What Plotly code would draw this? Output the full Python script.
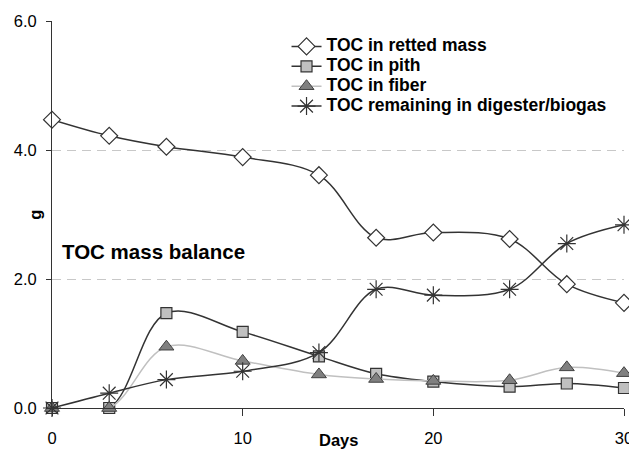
import plotly.graph_objects as go

days = [0, 3, 6, 10, 14, 17, 20, 24, 27, 30]
toc_retted = [4.47, 4.22, 4.05, 3.89, 3.61, 2.64, 2.72, 2.62, 1.92, 1.63]
toc_pith = [0.0, 0.0, 1.47, 1.18, 0.80, 0.53, 0.41, 0.33, 0.38, 0.31]
toc_fiber = [0.0, 0.0, 0.95, 0.73, 0.52, 0.45, 0.42, 0.43, 0.63, 0.54]
toc_biogas = [0.0, 0.23, 0.44, 0.57, 0.86, 1.84, 1.75, 1.84, 2.55, 2.84]

names = ["TOC in retted mass", "TOC in pith", "TOC in fiber",
         "TOC remaining in digester/biogas"]

FONT = "Arial, 'Liberation Sans', sans-serif"
DARK = "#333333"


def legend_label(s):
    return '<span style="font-size:17.5px;font-weight:bold">' + s + "</span>"


fig = go.Figure()
fig.add_trace(go.Scatter(
    x=days, y=toc_retted, name=legend_label(names[0]), mode="lines+markers",
    line=dict(color=DARK, width=1.5, shape="spline", smoothing=1),
    marker=dict(symbol="diamond", size=13, color="white",
                line=dict(color=DARK, width=1.2)),
    cliponaxis=False))
fig.add_trace(go.Scatter(
    x=days, y=toc_pith, name=legend_label(names[1]), mode="lines+markers",
    line=dict(color=DARK, width=1.5, shape="spline", smoothing=1),
    marker=dict(symbol="square", size=11, color="#c0c0c0",
                line=dict(color=DARK, width=1.2)),
    cliponaxis=False))
fig.add_trace(go.Scatter(
    x=days, y=toc_fiber, name=legend_label(names[2]), mode="lines+markers",
    line=dict(color="#c0c0c0", width=1.5, shape="spline", smoothing=1),
    marker=dict(symbol="triangle-up", size=13, color="#808080",
                line=dict(color="#404040", width=1)),
    cliponaxis=False))
fig.add_trace(go.Scatter(
    x=days, y=toc_biogas, name=legend_label(names[3]), mode="lines+markers",
    line=dict(color=DARK, width=1.5, shape="spline", smoothing=1),
    marker=dict(symbol="asterisk-open", size=15, color=DARK,
                line=dict(color=DARK, width=1.2)),
    cliponaxis=False))

fig.update_layout(
    width=629, height=442,
    margin=dict(l=44, r=13, t=13, b=42, autoexpand=False),
    paper_bgcolor="white", plot_bgcolor="white",
    font=dict(family=FONT, size=16, color="#000000"),
    showlegend=True,
    legend=dict(x=0.41, y=0.973, xanchor="left", yanchor="top",
                bgcolor="rgba(0,0,0,0)", borderwidth=0,
                font=dict(family=FONT, size=13, color="#000000"),
                tracegroupgap=0),
    xaxis=dict(range=[0, 30], tickvals=[0, 10, 20, 30], automargin=False,
               showgrid=False, zeroline=False,
               showline=True, linecolor=DARK, linewidth=1,
               ticks="outside", ticklen=7, tickcolor=DARK,
               ticklabelstandoff=8,
               tickfont=dict(family=FONT, size=16.5, color="#000000")),
    yaxis=dict(range=[0, 6], tickvals=[0, 2, 4, 6], tickformat=".1f",
               automargin=False,
               showgrid=True, gridcolor="#c8c8c8", griddash="9px,6px", gridwidth=1,
               zeroline=False,
               showline=True, linecolor=DARK, linewidth=1,
               ticks="outside", ticklen=5, tickcolor=DARK,
               ticklabelstandoff=6,
               tickfont=dict(family=FONT, size=16.5, color="#000000")),
    annotations=[
        dict(text="<b>TOC mass balance</b>", x=0.4, y=2.42, xref="x", yref="y",
             xanchor="left", yanchor="middle", showarrow=False,
             font=dict(family=FONT, size=20.5, color="#000000")),
        dict(text="<b>Days</b>", x=15, y=-0.083, xref="x", yref="paper",
             xanchor="center", yanchor="middle", showarrow=False,
             font=dict(family=FONT, size=16.5, color="#000000")),
        dict(text="<b>g</b>", x=-0.031, y=0.5, xref="paper", yref="paper",
             xanchor="center", yanchor="middle", showarrow=False, textangle=-90,
             font=dict(family=FONT, size=16.5, color="#000000")),
    ],
)

fig.write_html("out.html")
